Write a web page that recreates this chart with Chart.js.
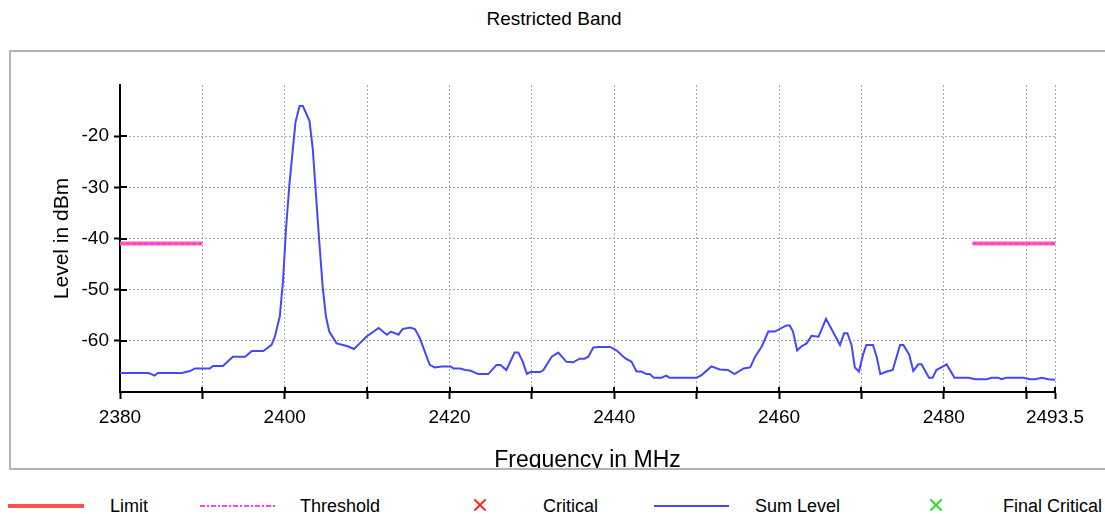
<!DOCTYPE html>
<html>
<head>
<meta charset="utf-8">
<script src="https://cdn.jsdelivr.net/npm/chart.js@4.4.1/dist/chart.umd.min.js"></script>
<style>
  body { margin: 0; background: #fff; width: 1105px; height: 514px; overflow: hidden; position: relative;
         font-family: 'Liberation Sans', Arial, sans-serif; color: #000; }
  #title { position: absolute; left: 0; width: 1108px; top: 8px; text-align: center; font-size: 19px; line-height: 22px; }
  #panel { position: absolute; left: 9px; top: 50px; width: 1120px; height: 416px;
           border: 2px solid #b4b4b4; border-right: none; background: #fff; }
  #chart { position: absolute; left: 0; top: 0; }
  .lg { position: absolute; top: 496px; font-size: 18px; line-height: 20px; white-space: nowrap; }
  .ln { position: absolute; }
  .dashdot { background: repeating-linear-gradient(90deg, #ff40ff 0 5px, transparent 5px 7px, #ff40ff 7px 9px, transparent 9px 11px); }
  .xm { position: absolute; width: 14px; height: 14px; top: 498px; }
  .xm:before, .xm:after { content: ''; position: absolute; left: -1px; top: 6px; width: 16px; height: 2px; }
  .xm:before { transform: rotate(45deg); }
  .xm:after { transform: rotate(-45deg); }
  .red:before, .red:after { background: #ff2020; }
  .green:before, .green:after { background: #20e020; }
</style>
</head>
<body>
<div id="title">Restricted Band</div>
<div id="panel"><canvas id="chart" width="1094" height="416"></canvas></div>

<div class="ln" style="left:8px; top:504px; width:76px; height:4px; background:#ff5050;"></div>
<div class="lg" style="left:110px;">Limit</div>
<div class="ln dashdot" style="left:200px; top:505px; width:76px; height:2px;"></div>
<div class="lg" style="left:300px;">Threshold</div>
<div class="xm red" style="left:473px;"></div>
<div class="lg" style="left:543px;">Critical</div>
<div class="ln" style="left:654px; top:505px; width:75px; height:2px; background:#4646ff;"></div>
<div class="lg" style="left:755px;">Sum Level</div>
<div class="xm green" style="left:929px;"></div>
<div class="lg" style="left:1003px;">Final Critical</div>

<script>
// measured trace (MHz / dBm)
var sumFreq = [2380.0, 2383.5, 2384.2, 2384.6, 2387.5, 2388.5, 2389.1, 2390.9, 2391.3, 2392.5,
    2393.7, 2395.2, 2396.0, 2397.4, 2397.8, 2398.4, 2398.8, 2399.4, 2399.8, 2400.15,
    2400.55, 2400.9, 2401.3, 2401.8, 2402.2, 2403.0, 2403.4, 2403.8, 2404.2, 2404.6,
    2405.0, 2405.4, 2406.3, 2407.3, 2407.7, 2408.4, 2409.1, 2409.9, 2411.4, 2412.4,
    2412.9, 2413.8, 2414.3, 2415.2, 2415.8, 2416.4, 2417.0, 2417.6, 2418.2, 2419.05,
    2420.1, 2420.5, 2421.3, 2421.9, 2422.5, 2423.5, 2424.7, 2425.7, 2426.2, 2426.9,
    2427.9, 2428.35, 2428.9, 2429.4, 2429.8, 2431.0, 2431.4, 2432.4, 2433.2, 2434.2,
    2435.0, 2435.8, 2436.4, 2436.85, 2437.45, 2438.1, 2439.5, 2440.3, 2441.3, 2442.1,
    2442.7, 2443.3, 2443.9, 2444.3, 2444.8, 2445.75, 2446.3, 2446.7, 2450.0, 2450.6,
    2451.8, 2452.8, 2453.8, 2454.6, 2455.7, 2456.5, 2457.1, 2457.9, 2458.7, 2459.5,
    2460.9, 2461.3, 2461.7, 2462.2, 2462.7, 2463.35, 2463.95, 2464.8, 2465.7, 2466.4,
    2467.4, 2467.9, 2468.3, 2468.8, 2469.2, 2469.7, 2470.2, 2470.6, 2471.4, 2471.85,
    2472.3, 2472.9, 2473.8, 2474.7, 2475.1, 2475.8, 2476.3, 2476.9, 2477.3, 2478.2,
    2478.65, 2479.1, 2480.35, 2481.3, 2483.0, 2483.8, 2485.2, 2485.8, 2486.6, 2487.0,
    2487.6, 2489.65, 2490.5, 2491.1, 2491.9, 2492.7, 2493.5];
var sumLevel = [-66.3, -66.3, -66.8, -66.3, -66.3, -65.9, -65.4, -65.4, -64.9, -64.9,
    -63.1, -63.1, -62.0, -62.0, -61.5, -60.8, -59.2, -55.2, -48.0, -38.2,
    -29.7, -23.9, -17.3, -14.1, -14.1, -17.0, -22.5, -31.7, -40.8, -49.4,
    -55.2, -58.2, -60.5, -60.9, -61.1, -61.6, -60.5, -59.2, -57.5, -58.8,
    -58.2, -58.8, -57.7, -57.4, -57.7, -59.5, -62.1, -64.7, -65.2, -65.0,
    -65.0, -65.4, -65.4, -65.7, -65.8, -66.5, -66.5, -64.7, -64.7, -65.7,
    -62.3, -62.3, -64.1, -66.5, -66.1, -66.1, -65.7, -63.1, -62.3, -64.1,
    -64.2, -63.5, -63.5, -63.1, -61.3, -61.2, -61.2, -61.9, -63.4, -64.1,
    -66.0, -66.0, -66.5, -66.5, -67.2, -67.2, -66.8, -67.2, -67.2, -66.7,
    -65.0, -65.6, -65.7, -66.5, -65.4, -65.2, -63.1, -61.1, -58.2, -58.2,
    -57.0, -57.0, -58.2, -61.9, -61.1, -60.5, -59.0, -59.2, -55.7, -57.8,
    -60.8, -58.5, -58.5, -60.8, -65.2, -66.0, -62.7, -60.8, -60.8, -63.1,
    -66.5, -66.1, -65.7, -60.8, -60.8, -62.7, -65.9, -64.6, -64.6, -67.2,
    -67.2, -65.7, -64.6, -67.2, -67.2, -67.5, -67.5, -67.2, -67.2, -67.5,
    -67.2, -67.2, -67.5, -67.5, -67.2, -67.5, -67.6];

// limit / threshold: two restricted segments, null breaks the line
var limitFreq = [2380, 2390, 2436, 2483.5, 2493.5];
var limitLevel = [-41, -41, null, -41, -41];
var thresholdLevel = [-41, -41, null, -41, -41];

var xTickValues = [2380, 2390, 2400, 2410, 2420, 2430, 2440, 2450, 2460, 2470, 2480, 2490, 2493.5];
var xTickLabels = [2380, 2400, 2420, 2440, 2460, 2480, 2493.5];
var yTickLabels = [-20, -30, -40, -50, -60];

function pts(xs, ys) {
    var out = [];
    for (var i = 0; i < xs.length; i++) out.push({x: xs[i], y: ys[i]});
    return out;
}

var FONT = "'Liberation Sans', Arial, sans-serif";
var GRID = '#a8a8a8';

// short tick stubs on the inner side of both axes
var innerTicks = {
    id: 'innerTicks',
    afterDraw: function(chart) {
        var ctx = chart.ctx, a = chart.chartArea;
        var xs = chart.scales.x, ys = chart.scales.y;
        ctx.save();
        ctx.strokeStyle = '#000';
        ctx.lineWidth = 2;
        ctx.setLineDash([]);
        ctx.beginPath();
        xs.ticks.forEach(function(t) {
            var px = Math.round(xs.getPixelForValue(t.value));
            ctx.moveTo(px, a.bottom);
            ctx.lineTo(px, a.bottom - 5);
        });
        ys.ticks.forEach(function(t) {
            if (t.value <= -70 || t.value >= -10) return;
            var py = Math.round(ys.getPixelForValue(t.value));
            ctx.moveTo(a.left, py);
            ctx.lineTo(a.left + 7, py);
        });
        ctx.stroke();
        ctx.restore();
    }
};

var ctx = document.getElementById('chart');
var myChart = new Chart(ctx, {
    type: 'line',
    data: {
        datasets: [{
            label: 'Threshold',
            data: pts(limitFreq, thresholdLevel),
            borderColor: '#ff30ff',
            borderWidth: 2,
            borderDash: [4, 2],
            pointRadius: 0,
            spanGaps: false,
            order: 0
        }, {
            label: 'Limit',
            data: pts(limitFreq, limitLevel),
            borderColor: '#ff6a9a',
            borderWidth: 4,
            pointRadius: 0,
            spanGaps: false,
            order: 1
        }, {
            label: 'Sum Level',
            data: pts(sumFreq, sumLevel),
            borderColor: '#4646ff',
            borderWidth: 2,
            pointRadius: 0,
            tension: 0,
            order: 2
        }]
    },
    options: {
        responsive: false,
        animation: false,
        events: [],
        layout: { padding: { left: 0, top: 33, right: 50, bottom: 0 } },
        plugins: { legend: { display: false }, tooltip: { enabled: false } },
        scales: {
            x: {
                type: 'linear',
                min: 2380,
                max: 2493.5,
                afterBuildTicks: function(scale) {
                    scale.ticks = xTickValues.map(function(v) { return {value: v}; });
                },
                afterFit: function(scale) { scale.height = 76; },
                border: { color: '#000', width: 2, dash: [2, 2] },
                grid: {
                    color: function(c) { return c.tick && c.tick.value === 2380 ? 'transparent' : GRID; },
                    lineWidth: 1,
                    tickColor: '#000',
                    tickWidth: 2,
                    tickLength: 7,
                    tickBorderDash: []
                },
                ticks: {
                    autoSkip: false,
                    maxRotation: 0,
                    padding: 7,
                    color: '#000',
                    font: { family: FONT, size: 19 },
                    callback: function(v) { return xTickLabels.indexOf(v) >= 0 ? String(v) : ''; }
                },
                title: {
                    display: true,
                    text: 'Frequency in MHz',
                    color: '#000',
                    font: { family: FONT, size: 23, lineHeight: 0.65 },
                    padding: { top: 0, bottom: 0 }
                }
            },
            y: {
                min: -70,
                max: -10,
                afterFit: function(scale) { scale.width = 109; },
                border: { color: '#000', width: 2, dash: [2, 2] },
                grid: {
                    color: function(c) {
                        var v = c.tick ? c.tick.value : 0;
                        return (v <= -70 || v >= -10) ? 'transparent' : GRID;
                    },
                    tickColor: function(c) {
                        var v = c.tick ? c.tick.value : 0;
                        return (v <= -70 || v >= -10) ? 'transparent' : '#000';
                    },
                    lineWidth: 1,
                    tickWidth: 2,
                    tickLength: 6,
                    tickBorderDash: []
                },
                ticks: {
                    stepSize: 5,
                    padding: 5,
                    color: '#000',
                    font: { family: FONT, size: 19 },
                    callback: function(v) { return yTickLabels.indexOf(v) >= 0 ? String(v) : ''; }
                },
                title: {
                    display: true,
                    text: 'Level in dBm',
                    color: '#000',
                    font: { family: FONT, size: 21 },
                    padding: { top: 39, bottom: 0 }
                }
            }
        }
    },
    plugins: [innerTicks]
});
</script>
</body>
</html>
